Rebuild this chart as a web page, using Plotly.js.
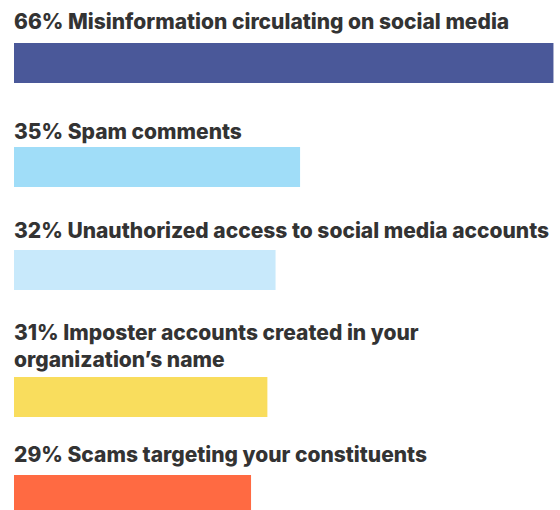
<!DOCTYPE html>
<html>
<head>
<meta charset="utf-8">
<script src="https://cdn.plot.ly/plotly-3.0.1.min.js"></script>
<style>
  html, body { margin: 0; padding: 0; background: #fff; }
  #chart { width: 560px; height: 510px; }
</style>
</head>
<body>
<div id="chart"></div>
<script>
// Share of respondents reporting each issue
const pct = [66, 35, 32, 31, 29];
const issues = [
  "Misinformation circulating on social media",
  "Spam comments",
  "Unauthorized access to social media accounts",
  "Imposter accounts created in your<br>organization’s name",
  "Scams targeting your constituents"
];
const barColors = ["#4a5899", "#a0ddf8", "#c8e9fb", "#f9dd5d", "#ff6a42"];

// layout: pixel rows of each bar (top, bottom) and label baseline (last line)
const H = 510;
const barRows = [[43, 83], [147, 187], [250, 290], [377, 417], [475, 510]];
const baselines = [29, 139, 238, 367, 462];

const data = [];
const layout = {
  width: 560,
  height: H,
  margin: {l: 14, r: 0, t: 0, b: 0},
  paper_bgcolor: "#fff",
  plot_bgcolor: "#fff",
  showlegend: false,
  annotations: [],
  font: {family: "Inter", color: "#333"}
};

pct.forEach(function(v, i){
  const n = i === 0 ? "" : String(i + 1);
  data.push({
    type: "bar",
    orientation: "h",
    x: [v],
    y: [0],
    width: 1,
    xaxis: "x" + n,
    yaxis: "y" + n,
    marker: {color: barColors[i]},
    hoverinfo: "skip"
  });
  layout["xaxis" + n] = {
    domain: [0, 1],
    range: [0, 66.8],
    visible: false,
    fixedrange: true,
    anchor: "y" + n
  };
  layout["yaxis" + n] = {
    domain: [1 - barRows[i][1] / H, 1 - barRows[i][0] / H],
    range: [-0.5, 0.5],
    visible: false,
    fixedrange: true,
    anchor: "x" + n
  };
  layout.annotations.push({
    xref: "paper",
    yref: "paper",
    x: 0,
    xshift: -2,
    y: 1 - (baselines[i] + 7) / H,
    xanchor: "left",
    yanchor: "bottom",
    align: "left",
    showarrow: false,
    text: v + "% " + issues[i],
    font: {size: 21, color: "#333", family: "Inter", weight: 800}
  });
});

Plotly.newPlot("chart", data, layout, {displayModeBar: false, staticPlot: true});
</script>
</body>
</html>
